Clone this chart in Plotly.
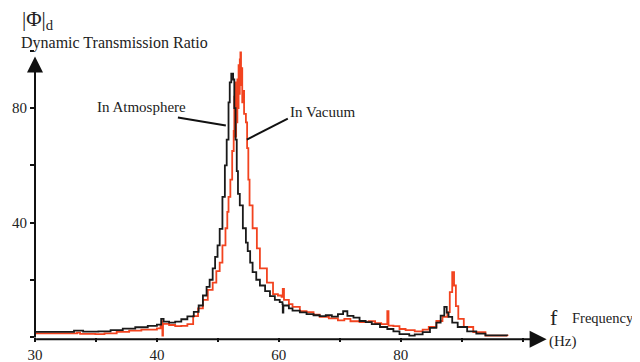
import plotly.graph_objects as go

# ---- data ----
atm_f = [20, 24.4, 26.4, 27.9, 30.4, 32.4, 34.4, 36.45, 38.5, 40.0, 40.7, 41.1, 42.0, 43.0, 44.0, 45.0,
         46.05, 46.85, 47.55, 48.15, 48.65, 49.15, 49.55, 49.95, 50.3, 50.75, 51.15, 51.45, 51.75, 51.95,
         52.2, 52.5, 52.7, 52.9, 53.1, 53.3, 53.6, 54.1, 54.6, 54.9, 55.3, 55.7, 56.3,
         56.9, 57.75, 58.55, 59.35, 60.15, 60.6, 60.65, 60.75, 61.65, 62.25, 63.45, 64.55, 65.7, 66.7,
         67.7, 68.7, 69.7, 70.55, 71.25, 72.25, 73.25, 74.25, 75.25, 76.6, 77.8, 78.8, 79.8, 81.4, 82.3,
         83.6, 84.8, 85.85, 86.55, 87.15, 87.55, 87.85, 88.45, 89.35, 90.9, 92.4, 93.9, 97.45]
atm_v = [1.8, 1.8, 2.2, 1.9, 2.0, 2.4, 2.9, 3.4, 3.9, 4.3, 6.3, 5.4, 5.0, 5.4, 6.2, 7.2,
         8.8, 11, 14.5, 17.5, 20, 24, 28, 32, 37.8, 49, 60, 69, 82, 89,
         92, 90, 80, 69, 58, 50, 46, 38, 33, 30, 26, 22.7, 20,
         18, 16, 14.3, 13, 12.2, 11.5, 8.5, 11, 10, 9.2, 8.6, 8.0, 7.6, 7.3,
         7.6, 7.1, 8.0, 9.0, 7.4, 6.8, 5.6, 5.2, 4.5, 3.5, 2.8, 2.0, 1.0, 0.5, 0.9,
         1.7, 3.2, 5.0, 7.5, 10.5, 8.5, 7.0, 5.0, 3.5, 2.0, 1.2, 0.6, 0.4]

vac_f = [20, 24.4, 26.9, 27.4, 29.9, 31.4, 33.4, 35.45, 37.45, 40.0, 40.6, 40.8, 40.9, 41.0, 42.0, 43.0,
         44.0, 45.0, 45.95, 46.75, 47.55, 48.35, 49.15, 49.75, 50.3, 50.75, 51.25, 51.55, 51.75, 52.05,
         52.35, 52.6, 52.7, 52.8, 52.9, 53.0, 53.1, 53.2, 53.3, 53.4, 53.5, 53.6, 53.7,
         53.8, 53.9, 54.0, 54.1, 54.3, 54.6, 54.8, 55.0, 55.2, 55.7, 56.4, 56.9, 58.05,
         59.05, 59.85, 60.45, 60.65, 60.85, 61.65, 62.25, 63.45, 64.55, 65.7, 66.7, 68.2, 69.7, 70.75, 71.75,
         73.25, 74.75, 75.8, 76.8, 77.8, 78.0, 78.8, 79.8, 80.8, 82.3, 83.6, 84.6, 85.85, 86.85, 87.65, 88.05,
         88.45, 88.75, 89.05, 89.45, 90.35, 91.9, 93.9, 97.55]
vac_v = [1.3, 1.3, 1.5, 1.1, 1.0, 1.3, 1.8, 2.2, 2.6, 3.0, 4.0, 5.5, 0.5, 4.6, 4.2, 3.8,
         3.9, 4.5, 7.3, 10, 13, 16.5, 19, 23, 26, 32, 38, 43.7, 49, 55,
         65, 72, 84, 89, 70, 86, 75, 90, 80, 95, 85, 97, 99.5,
         88, 94, 82, 86, 78, 75, 66, 55, 46, 38, 31, 24, 19,
         15, 14.5, 14, 16.8, 13, 11.5, 10.5, 9, 8.7, 7.8, 7.0, 6.5, 5.8, 6.3, 5.5,
         5.2, 5.5, 4.8, 4.5, 9.0, 4.0, 3.8, 2.8, 2.4, 2.0, 2.6, 3.5, 5.6, 7.0, 8.7, 15.7,
         22.7, 18, 10.8, 6.3, 3.5, 1.7, 0.5, 0.4]

x_ticks = [20, 40, 60, 80]
x_labels = ["30", "40", "60", "80"]
y_ticks = [40, 80]
y_labels = ["40", "80"]

# ---- layout geometry (reference-window pixels; page body adds an 8px offset) ----
OFF = 8
W, H = 640 - OFF, 362 - OFF
X0, X1 = 20, 104
Y0, Y1 = 0, 101
L = 35.0
R = L + (X1 - X0) * 6.1
B = 337.3
T = B - (Y1 - Y0) * 2.86


def px(x):
    return (x - L) / (R - L)


def py(y):
    return (B - y) / (B - T)


SERIF = "Liberation Serif"
TICK = dict(ticks="outside", ticklen=4, tickwidth=1.5, tickcolor="#111")

fig = go.Figure()
fig.add_trace(go.Scatter(x=vac_f, y=vac_v, mode="lines", line=dict(color="#f2431f", width=1.8, shape="hv"),
                         name="In Vacuum", showlegend=False))
fig.add_trace(go.Scatter(x=atm_f, y=atm_v, mode="lines", line=dict(color="#1a1a1a", width=1.8, shape="hv"),
                         name="In Atmosphere", showlegend=False))

fig.update_layout(
    width=W, height=H,
    margin=dict(l=L - OFF, r=640 - R, t=T - OFF, b=362 - B, pad=0, autoexpand=False),
    paper_bgcolor="white", plot_bgcolor="white",
    font=dict(family=SERIF, size=15, color="#222"),
    xaxis=dict(range=[X0, X1], tickvals=x_ticks, ticktext=x_labels, **TICK,
               minor=dict(tick0=20, dtick=10, **TICK),
               showline=False, showgrid=False, zeroline=False, automargin=False,
               tickfont=dict(family=SERIF, size=15, color="#222"), fixedrange=True),
    yaxis=dict(range=[Y0, Y1], tickvals=y_ticks, ticktext=y_labels, **TICK,
               minor=dict(tick0=0, dtick=20, **TICK),
               showline=False, showgrid=False, zeroline=False, automargin=False,
               tickfont=dict(family=SERIF, size=15, color="#222"), fixedrange=True),
)

# axis arrows (tail offsets in pixels)
fig.add_annotation(x=px(547), y=py(339.5), ax=-(547 - L), ay=0, xref="paper", yref="paper",
                   axref="pixel", ayref="pixel", text="", showarrow=True, arrowhead=2,
                   arrowsize=1.7, arrowwidth=2, arrowcolor="#111", standoff=0)
fig.add_annotation(x=px(L), y=py(57), ax=0, ay=(339.5 - 57), xref="paper", yref="paper",
                   axref="pixel", ayref="pixel", text="", showarrow=True, arrowhead=2,
                   arrowsize=1.6, arrowwidth=2, arrowcolor="#111", standoff=0)

# leader lines
fig.add_shape(type="line", xref="paper", yref="paper", x0=px(178), y0=py(118), x1=px(226), y1=py(126),
              line=dict(color="#111", width=2))
fig.add_shape(type="line", xref="paper", yref="paper", x0=px(247), y0=py(140), x1=px(288), y1=py(119),
              line=dict(color="#111", width=2))


def label(text, x, y, size, anchor="left"):
    fig.add_annotation(x=px(x), y=py(y), xref="paper", yref="paper", text=text, showarrow=False,
                       xanchor=anchor, yanchor="middle", font=dict(family=SERIF, size=size, color="#222"))


label("|Φ|<sub>d</sub>", 20, 20, 21)
label("Dynamic Transmission Ratio", 19, 43, 16)
label("In Atmosphere", 95, 107, 15)
label("In Vacuum", 288, 112, 15)
label("f", 548, 318, 22)
label("Frequency", 570, 318, 14.5)
label("(Hz)", 547, 342, 15)

fig.write_html("out.html")
